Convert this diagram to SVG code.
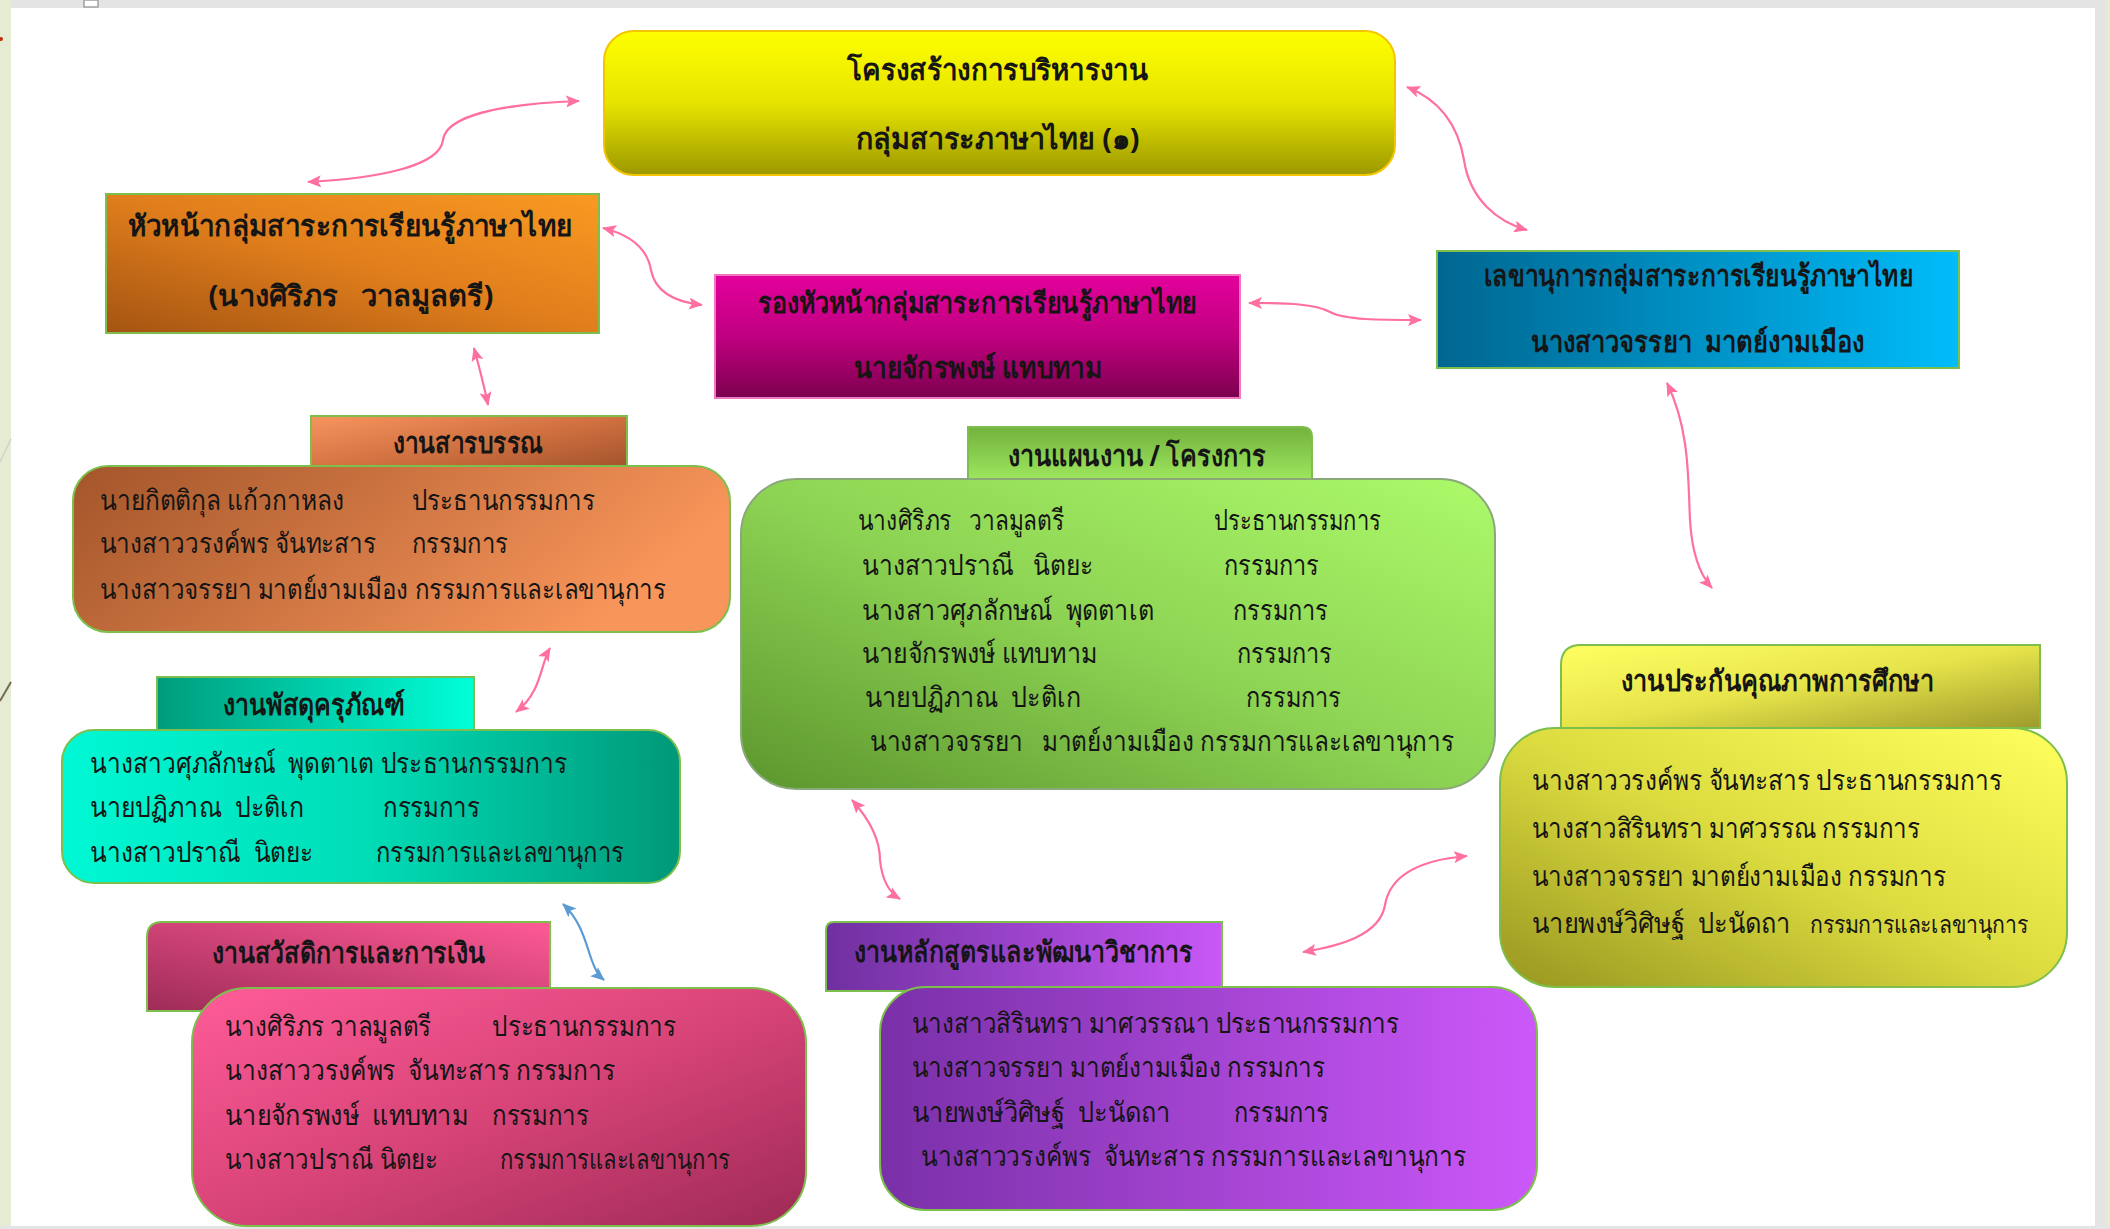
<svg xmlns="http://www.w3.org/2000/svg" width="2110" height="1229" viewBox="0 0 2110 1229">
<style>
.t{font-family:"Noto Sans","DejaVu Sans",sans-serif;fill:#151515;white-space:pre;font-size:28px}
.h{font-family:"Noto Sans","DejaVu Sans",sans-serif;fill:#151515;white-space:pre;font-size:29px;font-weight:bold}
.c{text-anchor:middle}
.bd{stroke:#7dbf4c;stroke-width:2}
.cn{fill:none;stroke:#ff6f9f;stroke-width:2.2}
.cb{fill:none;stroke:#5b9bd5;stroke-width:2.2}
</style>
<defs>
<marker id="ap" viewBox="0 0 14 12" refX="13" refY="6" markerWidth="14" markerHeight="12" markerUnits="userSpaceOnUse" orient="auto-start-reverse"><path d="M0,0 L14,6 L0,12 L3,6 Z" fill="#ff6f9f"/></marker>
<marker id="ab" viewBox="0 0 14 12" refX="13" refY="6" markerWidth="14" markerHeight="12" markerUnits="userSpaceOnUse" orient="auto-start-reverse"><path d="M0,0 L14,6 L0,12 L3,6 Z" fill="#5b9bd5"/></marker>
<linearGradient id="gTitle" x1="0" y1="0" x2="0" y2="1"><stop offset="0" stop-color="#ffff00"/><stop offset="0.5" stop-color="#e6e400"/><stop offset="1" stop-color="#9c9800"/></linearGradient>
<linearGradient id="gHead" x1="0" y1="1" x2="1" y2="0"><stop offset="0" stop-color="#a45412"/><stop offset="0.5" stop-color="#e07e1c"/><stop offset="1" stop-color="#f99a22"/></linearGradient>
<linearGradient id="gDep" x1="0" y1="0" x2="0" y2="1"><stop offset="0" stop-color="#e4009c"/><stop offset="0.5" stop-color="#c00080"/><stop offset="1" stop-color="#7c004e"/></linearGradient>
<linearGradient id="gSec" x1="0" y1="0" x2="1" y2="0"><stop offset="0" stop-color="#006690"/><stop offset="1" stop-color="#00bcfa"/></linearGradient>
<linearGradient id="gSarT" x1="0" y1="0" x2="1" y2="1"><stop offset="0" stop-color="#f7955e"/><stop offset="0.5" stop-color="#d07040"/><stop offset="1" stop-color="#9c4e2a"/></linearGradient>
<linearGradient id="gSarB" x1="0" y1="0" x2="1" y2="0.3"><stop offset="0" stop-color="#a3552a"/><stop offset="1" stop-color="#f8955a"/></linearGradient>
<linearGradient id="gPasT" x1="0" y1="0" x2="1" y2="0"><stop offset="0" stop-color="#009c7c"/><stop offset="1" stop-color="#00ffd8"/></linearGradient>
<linearGradient id="gPasB" x1="0" y1="0" x2="1" y2="0"><stop offset="0" stop-color="#00f8d4"/><stop offset="0.5" stop-color="#00dcb6"/><stop offset="1" stop-color="#009878"/></linearGradient>
<linearGradient id="gPlanT" x1="0" y1="0" x2="0" y2="1"><stop offset="0" stop-color="#72b23e"/><stop offset="1" stop-color="#a6f064"/></linearGradient>
<linearGradient id="gPlanB" x1="0" y1="1" x2="1" y2="0"><stop offset="0" stop-color="#5c962e"/><stop offset="0.5" stop-color="#8ed454"/><stop offset="1" stop-color="#acfa6a"/></linearGradient>
<linearGradient id="gQaT" x1="0" y1="0" x2="1" y2="1"><stop offset="0" stop-color="#ffff62"/><stop offset="0.5" stop-color="#e6e44a"/><stop offset="1" stop-color="#9e9a2c"/></linearGradient>
<linearGradient id="gQaB" x1="0" y1="1" x2="1" y2="0"><stop offset="0" stop-color="#989620"/><stop offset="0.5" stop-color="#dcdc40"/><stop offset="1" stop-color="#ffff5e"/></linearGradient>
<linearGradient id="gWelT" x1="0" y1="1" x2="1" y2="0"><stop offset="0" stop-color="#9e2c56"/><stop offset="1" stop-color="#ff5a96"/></linearGradient>
<linearGradient id="gWelB" x1="0" y1="0" x2="1" y2="1"><stop offset="0" stop-color="#ff5c98"/><stop offset="0.5" stop-color="#d84478"/><stop offset="1" stop-color="#9e2a56"/></linearGradient>
<linearGradient id="gCurT" x1="0" y1="0" x2="1" y2="0"><stop offset="0" stop-color="#7030a0"/><stop offset="1" stop-color="#c858f6"/></linearGradient>
<linearGradient id="gCurB" x1="0" y1="0" x2="1" y2="0"><stop offset="0" stop-color="#7a30a8"/><stop offset="1" stop-color="#cc58fa"/></linearGradient>
</defs>

<g id="background">
<rect x="0" y="0" width="2110" height="1229" fill="#ffffff"/>
<rect x="0" y="0" width="2110" height="8" fill="#e4e4e4"/>
<rect x="0" y="0" width="11" height="1229" fill="#e5ecd3"/>
<rect x="2095" y="0" width="10" height="1229" fill="#e4e4e4"/>
<rect x="2105" y="0" width="5" height="1229" fill="#e5ecd3"/>
<rect x="0" y="1226" width="2110" height="3" fill="#e4e4e4"/>
<rect x="84" y="0" width="14" height="7" fill="#ffffff" stroke="#a0a0a0" stroke-width="1.5"/>
<circle cx="1" cy="39" r="2" fill="#c0300a"/>
<line x1="0" y1="462" x2="11" y2="439" stroke="#d0d4c4" stroke-width="1.5"/>
<line x1="0" y1="701" x2="11" y2="682" stroke="#766a50" stroke-width="2"/>
</g>

<g id="connectors">
<path class="cn" d="M579,101 C500,104 446,116 443,140 C440,166 380,178 308,182" marker-start="url(#ap)" marker-end="url(#ap)"/>
<path class="cn" d="M603,228 C635,236 648,252 651,270 C655,292 676,302 702,305" marker-start="url(#ap)" marker-end="url(#ap)"/>
<path class="cn" d="M1407,87 C1440,100 1458,125 1464,160 C1470,200 1498,222 1527,230" marker-start="url(#ap)" marker-end="url(#ap)"/>
<path class="cn" d="M1249,303 C1290,303 1315,304 1330,312 C1345,320 1380,320 1421,320" marker-start="url(#ap)" marker-end="url(#ap)"/>
<path class="cn" d="M474,348 C480,370 484,385 488,405" marker-start="url(#ap)" marker-end="url(#ap)"/>
<path class="cn" d="M550,648 C540,665 542,692 516,712" marker-start="url(#ap)" marker-end="url(#ap)"/>
<path class="cb" d="M563,904 C580,920 585,940 590,955 C595,970 598,975 604,980" marker-start="url(#ab)" marker-end="url(#ab)"/>
<path class="cn" d="M852,800 C870,820 880,840 880,860 C882,880 890,893 900,899" marker-start="url(#ap)" marker-end="url(#ap)"/>
<path class="cn" d="M1303,952 C1340,946 1380,935 1385,905 C1390,875 1420,860 1467,856" marker-start="url(#ap)" marker-end="url(#ap)"/>
<path class="cn" d="M1667,383 C1690,430 1688,480 1690,520 C1692,555 1700,575 1712,588" marker-start="url(#ap)" marker-end="url(#ap)"/>
</g>

<g id="title">
<rect x="604" y="31" width="791" height="144" rx="30" fill="url(#gTitle)" stroke="#f5c400" stroke-width="2"/>
<text class="h c" x="997.5" y="80" textLength="301" lengthAdjust="spacingAndGlyphs">โครงสร้างการบริหารงาน</text>
<text class="h c" x="997.5" y="149" textLength="284" lengthAdjust="spacingAndGlyphs">กลุ่มสาระภาษาไทย (๑)</text>
</g>

<g id="head">
<rect class="bd" x="106" y="194" width="493" height="139" fill="url(#gHead)"/>
<text class="h c" x="350" y="236" textLength="445" lengthAdjust="spacingAndGlyphs">หัวหน้ากลุ่มสาระการเรียนรู้ภาษาไทย</text>
<text class="h c" x="351" y="306" textLength="285" lengthAdjust="spacingAndGlyphs">(นางศิริภร   วาลมูลตรี)</text>
</g>

<g id="deputy">
<rect x="715" y="275" width="525" height="123" fill="url(#gDep)" stroke="#f078c0" stroke-width="2"/>
<text class="h c" x="977.5" y="313" textLength="439" lengthAdjust="spacingAndGlyphs">รองหัวหน้ากลุ่มสาระการเรียนรู้ภาษาไทย</text>
<text class="h c" x="978" y="378" textLength="248" lengthAdjust="spacingAndGlyphs">นายจักรพงษ์ แทบทาม</text>
</g>

<g id="secretary">
<rect class="bd" x="1437" y="251" width="522" height="117" fill="url(#gSec)"/>
<text class="h c" x="1698.5" y="286" textLength="429" lengthAdjust="spacingAndGlyphs">เลขานุการกลุ่มสาระการเรียนรู้ภาษาไทย</text>
<text class="h c" x="1697.5" y="352" textLength="333" lengthAdjust="spacingAndGlyphs">นางสาวจรรยา  มาตย์งามเมือง</text>
</g>

<g id="saraban">
<rect class="bd" x="311" y="416" width="316" height="60" fill="url(#gSarT)"/>
<rect class="bd" x="73" y="466" width="657" height="166" rx="35" fill="url(#gSarB)"/>
<text class="h" x="393" y="453" textLength="150" lengthAdjust="spacingAndGlyphs">งานสารบรรณ</text>
<text class="t" x="100" y="510" textLength="244" lengthAdjust="spacingAndGlyphs">นายกิตติกุล แก้วกาหลง</text>
<text class="t" x="412" y="510" textLength="183" lengthAdjust="spacingAndGlyphs">ประธานกรรมการ</text>
<text class="t" x="100" y="553" textLength="276" lengthAdjust="spacingAndGlyphs">นางสาววรงค์พร จันทะสาร</text>
<text class="t" x="412" y="553" textLength="96" lengthAdjust="spacingAndGlyphs">กรรมการ</text>
<text class="t" x="100" y="599" textLength="566" lengthAdjust="spacingAndGlyphs">นางสาวจรรยา มาตย์งามเมือง กรรมการและเลขานุการ</text>
</g>

<g id="supplies">
<rect class="bd" x="157" y="677" width="317" height="60" fill="url(#gPasT)"/>
<rect class="bd" x="62" y="730" width="618" height="153" rx="32" fill="url(#gPasB)"/>
<text class="h" x="223" y="715" textLength="182" lengthAdjust="spacingAndGlyphs">งานพัสดุครุภัณฑ์</text>
<text class="t" x="90" y="773" textLength="477" lengthAdjust="spacingAndGlyphs">นางสาวศุภลักษณ์  พุดตาเต ประธานกรรมการ</text>
<text class="t" x="90" y="817" textLength="214" lengthAdjust="spacingAndGlyphs">นายปฏิภาณ  ปะติเก</text>
<text class="t" x="383" y="817" textLength="97" lengthAdjust="spacingAndGlyphs">กรรมการ</text>
<text class="t" x="90" y="862" textLength="223" lengthAdjust="spacingAndGlyphs">นางสาวปราณี  นิตยะ</text>
<text class="t" x="376" y="862" textLength="248" lengthAdjust="spacingAndGlyphs">กรรมการและเลขานุการ</text>
</g>

<g id="planning">
<path class="bd" d="M968,427 H1302 Q1312,427 1312,437 V490 H968 Z" fill="url(#gPlanT)"/>
<rect x="741" y="479" width="754" height="310" rx="55" fill="url(#gPlanB)" stroke="#8aa87a" stroke-width="2"/>
<text class="h" x="1008" y="466" textLength="258" lengthAdjust="spacingAndGlyphs">งานแผนงาน / โครงการ</text>
<text class="t" x="858" y="530" textLength="206" lengthAdjust="spacingAndGlyphs">นางศิริภร   วาลมูลตรี</text>
<text class="t" x="1214" y="530" textLength="167" lengthAdjust="spacingAndGlyphs">ประธานกรรมการ</text>
<text class="t" x="862" y="575" textLength="231" lengthAdjust="spacingAndGlyphs">นางสาวปราณี   นิตยะ</text>
<text class="t" x="1224" y="575" textLength="95" lengthAdjust="spacingAndGlyphs">กรรมการ</text>
<text class="t" x="862" y="620" textLength="292" lengthAdjust="spacingAndGlyphs">นางสาวศุภลักษณ์  พุดตาเต</text>
<text class="t" x="1233" y="620" textLength="95" lengthAdjust="spacingAndGlyphs">กรรมการ</text>
<text class="t" x="862" y="663" textLength="235" lengthAdjust="spacingAndGlyphs">นายจักรพงษ์ แทบทาม</text>
<text class="t" x="1237" y="663" textLength="95" lengthAdjust="spacingAndGlyphs">กรรมการ</text>
<text class="t" x="865" y="707" textLength="216" lengthAdjust="spacingAndGlyphs">นายปฏิภาณ  ปะติเก</text>
<text class="t" x="1246" y="707" textLength="95" lengthAdjust="spacingAndGlyphs">กรรมการ</text>
<text class="t" x="870" y="751" textLength="584" lengthAdjust="spacingAndGlyphs">นางสาวจรรยา   มาตย์งามเมือง กรรมการและเลขานุการ</text>
</g>

<g id="quality">
<path class="bd" d="M1561,728 V665 Q1561,645 1581,645 H2040 V728 Z" fill="url(#gQaT)"/>
<rect class="bd" x="1500" y="728" width="567" height="259" rx="55" fill="url(#gQaB)"/>
<text class="h" x="1621" y="691" textLength="313" lengthAdjust="spacingAndGlyphs">งานประกันคุณภาพการศึกษา</text>
<text class="t" x="1532" y="790" textLength="470" lengthAdjust="spacingAndGlyphs">นางสาววรงค์พร จันทะสาร ประธานกรรมการ</text>
<text class="t" x="1532" y="838" textLength="388" lengthAdjust="spacingAndGlyphs">นางสาวสิรินทรา มาศวรรณ กรรมการ</text>
<text class="t" x="1532" y="886" textLength="414" lengthAdjust="spacingAndGlyphs">นางสาวจรรยา มาตย์งามเมือง กรรมการ</text>
<text class="t" x="1532" y="933" textLength="259" lengthAdjust="spacingAndGlyphs">นายพงษ์วิศิษฐ์  ปะนัดถา</text>
<text class="t" x="1810" y="933" textLength="218" lengthAdjust="spacingAndGlyphs" style="font-size:25px">กรรมการและเลขานุการ</text>
</g>

<g id="welfare">
<path class="bd" d="M147,1011 V937 Q147,922 162,922 H550 V1011 Z" fill="url(#gWelT)"/>
<rect class="bd" x="192" y="988" width="614" height="238" rx="55" fill="url(#gWelB)"/>
<text class="h" x="212" y="963" textLength="273" lengthAdjust="spacingAndGlyphs">งานสวัสดิการและการเงิน</text>
<text class="t" x="225" y="1036" textLength="206" lengthAdjust="spacingAndGlyphs">นางศิริภร วาลมูลตรี</text>
<text class="t" x="492" y="1036" textLength="184" lengthAdjust="spacingAndGlyphs">ประธานกรรมการ</text>
<text class="t" x="225" y="1080" textLength="390" lengthAdjust="spacingAndGlyphs">นางสาววรงค์พร  จันทะสาร กรรมการ</text>
<text class="t" x="225" y="1125" textLength="243" lengthAdjust="spacingAndGlyphs">นายจักรพงษ์  แทบทาม</text>
<text class="t" x="492" y="1125" textLength="97" lengthAdjust="spacingAndGlyphs">กรรมการ</text>
<text class="t" x="225" y="1169" textLength="213" lengthAdjust="spacingAndGlyphs">นางสาวปราณี นิตยะ</text>
<text class="t" x="500" y="1169" textLength="230" lengthAdjust="spacingAndGlyphs">กรรมการและเลขานุการ</text>
</g>

<g id="curriculum">
<path class="bd" d="M826,991 V930 Q826,922 834,922 H1222 V991 Z" fill="url(#gCurT)"/>
<rect class="bd" x="880" y="987" width="657" height="223" rx="45" fill="url(#gCurB)"/>
<text class="h" x="854" y="962" textLength="339" lengthAdjust="spacingAndGlyphs">งานหลักสูตรและพัฒนาวิชาการ</text>
<text class="t" x="912" y="1033" textLength="487" lengthAdjust="spacingAndGlyphs">นางสาวสิรินทรา มาศวรรณา ประธานกรรมการ</text>
<text class="t" x="912" y="1077" textLength="413" lengthAdjust="spacingAndGlyphs">นางสาวจรรยา มาตย์งามเมือง กรรมการ</text>
<text class="t" x="912" y="1122" textLength="259" lengthAdjust="spacingAndGlyphs">นายพงษ์วิศิษฐ์  ปะนัดถา</text>
<text class="t" x="1234" y="1122" textLength="95" lengthAdjust="spacingAndGlyphs">กรรมการ</text>
<text class="t" x="921" y="1166" textLength="545" lengthAdjust="spacingAndGlyphs">นางสาววรงค์พร  จันทะสาร กรรมการและเลขานุการ</text>
</g>
</svg>
